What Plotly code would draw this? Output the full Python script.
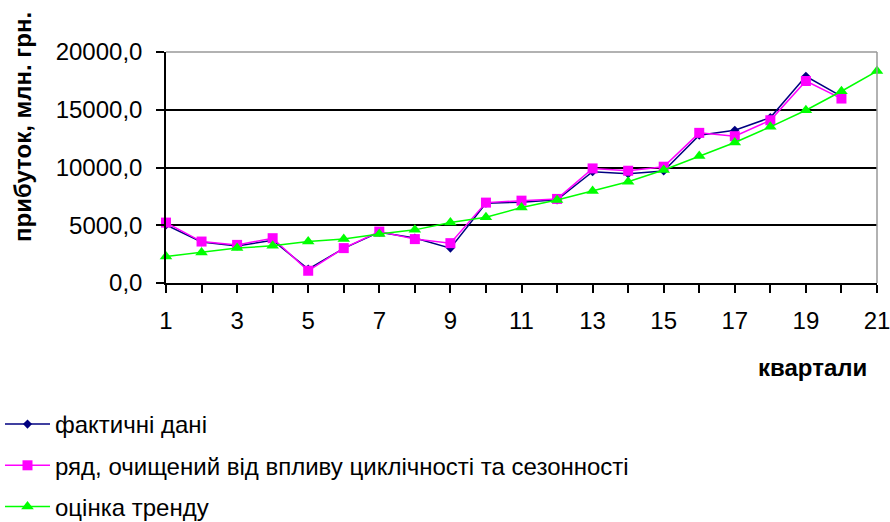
import plotly.graph_objects as go

quarters = list(range(1, 22))
actual = [5030, 3550, 3200, 3700, 1200, 3000, 4400, 3900, 3020, 6900, 7000, 7200,
          9630, 9450, 9700, 12800, 13230, 14320, 17900, 16160]
deseasonal = [5230, 3590, 3300, 3880, 1060, 3020, 4450, 3800, 3450, 6960, 7130, 7280,
              9920, 9720, 10070, 13000, 12710, 14090, 17490, 15970]
trend = [2300, 2640, 3020, 3220, 3590, 3820, 4250, 4600, 5230, 5700, 6530, 7190,
         7970, 8770, 9780, 10990, 12170, 13520, 14960, 16600, 18350]

names = ["фактичні дані",
         "ряд, очищений від впливу циклічності та сезонності",
         "оцінка тренду"]
y_title = "прибуток, млн. грн."
x_title = "квартали"

FONT = "Liberation Sans, Arial, sans-serif"
FS = 24

fig = go.Figure()
fig.add_trace(go.Scatter(x=quarters[:len(actual)], y=actual, name=names[0], mode="lines+markers",
                         line=dict(color="#000080", width=1.5),
                         marker=dict(symbol="diamond", size=7, color="#000080"),
                         legendgroup="a", cliponaxis=False))
fig.add_trace(go.Scatter(x=quarters[:len(deseasonal)], y=deseasonal, name=names[1], mode="lines+markers",
                         line=dict(color="#FF00FF", width=1.5),
                         marker=dict(symbol="square", size=10, color="#FF00FF"),
                         legendgroup="b", cliponaxis=False))
fig.add_trace(go.Scatter(x=quarters, y=trend, name=names[2], mode="lines+markers",
                         line=dict(color="#00FF00", width=1.5),
                         marker=dict(symbol="triangle-up", size=11, color="#00FF00"),
                         legendgroup="c", cliponaxis=False))

fig.update_layout(
    width=890, height=522,
    margin=dict(l=166, r=13, t=52, b=239, autoexpand=False),
    paper_bgcolor="white", plot_bgcolor="white",
    font=dict(family=FONT, size=FS, color="black"),
    separators=", ",
    showlegend=True,
    legend=dict(xref="container", yref="container", x=0, y=1 - 402 / 522,
                xanchor="left", yanchor="top",
                traceorder="grouped", tracegroupgap=7, itemwidth=45,
                font=dict(family=FONT, size=FS, color="black"),
                bgcolor="rgba(0,0,0,0)", borderwidth=0),
)

fig.update_xaxes(range=[1, 21], tickmode="linear", tick0=1, dtick=2,
                 ticks="outside", ticklen=8, tickcolor="black", tickwidth=1.5,
                 ticklabelstandoff=7, ticklabeloverflow="allow",
                 showline=True, linecolor="black", linewidth=1.5,
                 showgrid=False, zeroline=False,
                 minor=dict(ticks="outside", dtick=1, tick0=1, ticklen=8, tickcolor="black", tickwidth=1.5),
                 tickfont=dict(size=FS))
fig.update_yaxes(range=[0, 20000], tickmode="linear", tick0=0, dtick=5000, tickformat=".1f",
                 ticks="outside", ticklen=8, tickcolor="black", tickwidth=1.5,
                 ticklabelstandoff=9, ticklabeloverflow="allow",
                 showline=True, linecolor="black", linewidth=1.5,
                 showgrid=True, gridcolor="black", gridwidth=1.5, zeroline=False,
                 tickfont=dict(size=FS))

# gray frame top and right
fig.add_shape(type="line", xref="paper", yref="paper", x0=0, x1=1, y0=1, y1=1,
              line=dict(color="#999999", width=1.5))
fig.add_shape(type="line", xref="paper", yref="paper", x0=1, x1=1, y0=0, y1=1,
              line=dict(color="#999999", width=1.5))

fig.add_annotation(text=y_title, textangle=-90, xref="paper", yref="paper",
                   x=-144 / 711, xanchor="center", y=(283 - 127) / 231, yanchor="middle",
                   showarrow=False, font=dict(family=FONT, size=FS, color="black", weight="bold"))
fig.add_annotation(text=x_title, xref="paper", yref="paper",
                   x=(869 - 166) / 711, xanchor="right", y=-(368 - 283) / 231, yanchor="middle",
                   showarrow=False, font=dict(family=FONT, size=FS, color="black", weight="bold"))

fig.write_html("out.html")
